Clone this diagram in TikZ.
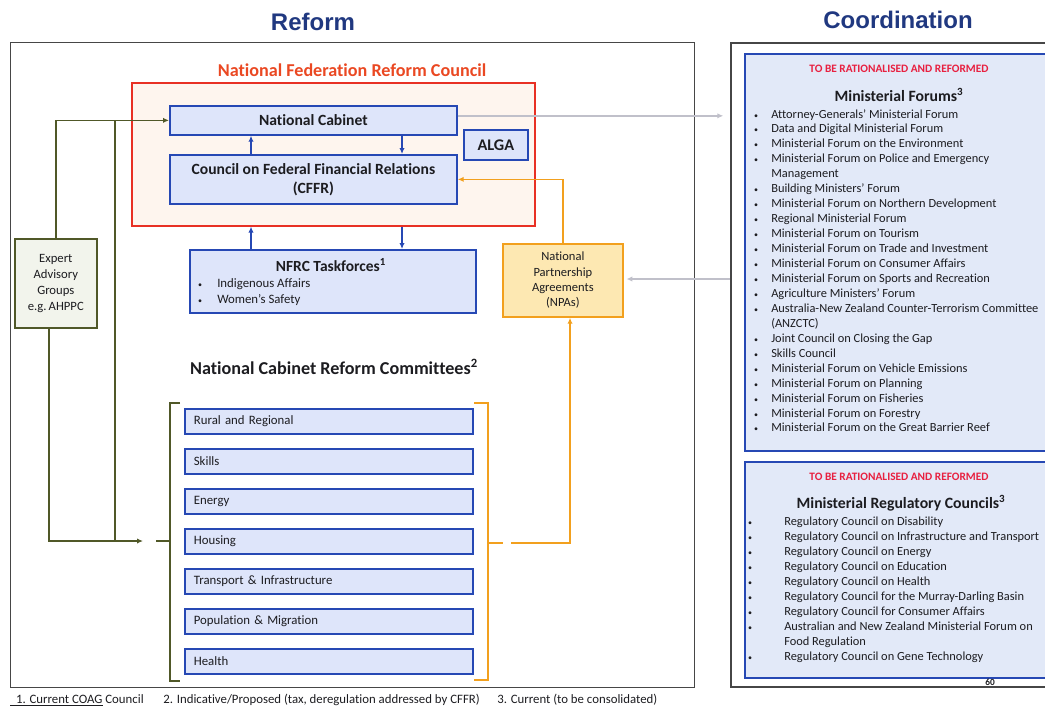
\documentclass[tikz,border=0pt]{standalone}
\usepackage{fontspec}
\setmainfont{Carlito}[Ligatures=NoCommon]
\newfontfamily\headfont{Liberation Sans}
\usetikzlibrary{arrows.meta,positioning}

\definecolor{titleblue}{RGB}{32,56,128}
\definecolor{nfrcred}{RGB}{232,48,36}
\definecolor{nfrctext}{RGB}{234,72,34}
\definecolor{nfrcfill}{RGB}{254,245,238}
\definecolor{boxblue}{RGB}{38,72,180}
\definecolor{boxfill}{RGB}{222,229,250}
\definecolor{panelfill}{RGB}{226,233,248}
\definecolor{npaline}{RGB}{242,160,30}
\definecolor{npafill}{RGB}{253,232,178}
\definecolor{olivel}{RGB}{80,88,40}
\definecolor{expfill}{RGB}{242,244,236}
\definecolor{flowgray}{RGB}{192,192,202}
\definecolor{alertred}{RGB}{232,32,64}
\definecolor{framegray}{RGB}{70,70,70}
\definecolor{ink}{RGB}{28,28,32}

\begin{document}
\begin{tikzpicture}[x=0.75pt,y=-0.75pt,text=ink,
  box/.style={draw,anchor=north west,inner sep=0pt},
  size/.style 2 args={minimum width=#1*0.75pt,minimum height=#2*0.75pt},
  bluebox/.style={box,draw=boxblue,fill=boxfill,line width=1.3pt},
  combox/.style={bluebox,size={288}{25},text width=202.5pt,align=left,
    font=\fontsize{9.6}{11}\selectfont},
  item/.style={anchor=base west,inner sep=0pt,font=\fontsize{9.3}{11}\selectfont},
  dot/.style={anchor=base,inner sep=0pt,font=\fontsize{6}{8}\selectfont},
  bold/.style={font=\bfseries\fontsize{#1}{14.3}\selectfont},
  arr/.style={-{Latex[length=4.5pt,width=4pt]}},
  blueflow/.style={arr,draw=boxblue,line width=1.3pt},
  oliveflow/.style={draw=olivel,line width=1.2pt},
  orangeflow/.style={draw=npaline,line width=1.3pt},
  grayflow/.style={draw=flowgray,line width=1pt}]
\useasboundingbox (0,0) rectangle (1045,707);

% headings and the two frames
\node[font=\headfont\bfseries\fontsize{18}{20}\selectfont,text=titleblue] (treform) at (313,22) {Reform};
\node[font=\headfont\bfseries\fontsize{18}{20}\selectfont,text=titleblue] (tcoord) at (898,20) {Coordination};
\node[box,draw=framegray,line width=1pt,size={684}{645}] (reform) at (10,42) {};
\node[box,draw=framegray,line width=1.2pt,size={340}{644}] (coordfr) at (730,42) {};

% National Federation Reform Council
\node[box,draw=nfrcred,fill=nfrcfill,line width=1.2pt,size={403}{143}] (nfrc) at (131,82) {};
\node[bold=13.6,text=nfrctext] (tnfrc) at (352,70) {National Federation Reform Council};
\node[bluebox,size={287}{29},bold=11.7] (cab) at (169,105) {National Cabinet};
\node[bluebox,size={287}{49},align=center,bold=11.7] (cffr) at (169,154)
  {Council on Federal Financial Relations\\(CFFR)};
\node[bluebox,size={64}{30},bold=12.2] (alga) at (463,129) {ALGA};

% taskforces
\node[bluebox,size={286}{63}] (task) at (189,249) {};
\node[bold=11.6] (ttask) at (331,265) {NFRC Taskforces\textsuperscript{1}};
\foreach \y/\t [count=\i] in {287/Indigenous Affairs,303/Women’s Safety} {
  \node[dot] (tdot\i) at (200,\y) {\textbullet};
  \node[item,font=\fontsize{9.6}{11}\selectfont] (titem\i) at (217,\y) {\t};
}

% side boxes
\node[box,draw=npaline,fill=npafill,line width=1.3pt,size={120}{73},align=center,
  font=\fontsize{9.4}{11.5}\selectfont] (npa) at (502,243) {National\\Partnership\\Agreements\\(NPAs)};
\node[box,draw=olivel,fill=expfill,line width=1.2pt,size={82}{89},align=center,
  font=\fontsize{9.5}{12}\selectfont] (expert) at (14,238) {Expert\\Advisory\\Groups\\e.g.\,AHPPC};

% reform committees
\node[bold=13.6] (tcom) at (334,367) {National Cabinet Reform Committees\textsuperscript{2}};
\foreach \t [count=\i from 0] in {Rural and Regional,Skills,Energy,Housing,
    Transport \& Infrastructure,Population \& Migration,Health}
  \node[combox] (com\i) at (184,408+40*\i) {\t};
\draw[olivel,line width=1.2pt] (180,403) -- (170,403) -- (170,681) -- (180,681);
\draw[npaline,line width=1.3pt] (474,403) -- (488,403) -- (488,680) -- (474,680);

% flows inside the council
\coordinate (lx) at (251,0);
\coordinate (rx) at (402,0);
\draw[blueflow] (cffr.north -| lx) -- (cab.south -| lx);
\draw[blueflow] (cab.south -| rx) -- (cffr.north -| rx);
\draw[blueflow] (task.north -| lx) -- (nfrc.south -| lx);
\draw[blueflow] (nfrc.south -| rx) -- (task.north -| rx);

% expert advice to cabinet and committees
\coordinate (ojoin) at (115,541);
\coordinate (oend) at (143,541);
\coordinate (lbr) at (170,541);
\draw[oliveflow,arr] (expert.north) |- (cab.west);
\draw[oliveflow] (ojoin |- cab.west) -- (ojoin);
\draw[oliveflow,arr] ([xshift=-5pt]expert.south) |- (oend);
\draw[oliveflow] (lbr) -- ++(-14,0);

% partnership agreements
\coordinate (rbr) at (488,543);
\coordinate (ogap) at (511,543);
\coordinate (obend) at (570,543);
\draw[orangeflow,arr] (npa.north) |- (cffr.east);
\draw[orangeflow,arr] (ogap) -| (npa.south -| obend);
\draw[orangeflow] (rbr) -- ++(15,0);

% links to the coordination side
\coordinate (ngy) at (0,279);
\draw[grayflow,arr,shorten >=5pt] ([yshift=3.4pt]cab.east) -- ([yshift=3.4pt]cab.east -| coordfr.west);
\draw[grayflow,arr,shorten >=2pt] (ngy -| coordfr.west) -- (ngy -| npa.east);

% ministerial forums
\node[box,draw=boxblue,fill=panelfill,line width=1.4pt,size={320}{397}] (forums) at (744,53) {};
\node[font=\bfseries\fontsize{8.5}{10}\selectfont,text=alertred] (fwarn) at (899,69) {TO BE RATIONALISED AND REFORMED};
\node[bold=11.8] (tforums) at (899,95) {Ministerial Forums\textsuperscript{3}};
\foreach \b/\t [count=\i from 0] in {1/Attorney-Generals’ Ministerial Forum,
    1/Data and Digital Ministerial Forum,1/Ministerial Forum on the Environment,
    1/Ministerial Forum on Police and Emergency,0/Management,
    1/Building Ministers’ Forum,1/Ministerial Forum on Northern Development,
    1/Regional Ministerial Forum,1/Ministerial Forum on Tourism,
    1/Ministerial Forum on Trade and Investment,1/Ministerial Forum on Consumer Affairs,
    1/Ministerial Forum on Sports and Recreation,1/Agriculture Ministers’ Forum,
    1/Australia-New Zealand Counter-Terrorism Committee,0/(ANZCTC),
    1/Joint Council on Closing the Gap,1/Skills Council,
    1/Ministerial Forum on Vehicle Emissions,1/Ministerial Forum on Planning,
    1/Ministerial Forum on Fisheries,1/Ministerial Forum on Forestry,
    1/Ministerial Forum on the Great Barrier Reef} {
  \node[item] (mf\i) at (771,118+14.95*\i) {\t};
  \ifnum\b=1 \node[dot] (mfd\i) at (756,118+14.95*\i) {\textbullet}; \fi
}

% regulatory councils
\node[box,draw=boxblue,fill=panelfill,line width=1.4pt,size={320}{216}] (regs) at (744,461) {};
\node[font=\bfseries\fontsize{8.5}{10}\selectfont,text=alertred] (rwarn) at (899,477) {TO BE RATIONALISED AND REFORMED};
\node[bold=11.8] (tregs) at (901,503) {Ministerial Regulatory Councils\textsuperscript{3}};
\foreach \b/\t [count=\i from 0] in {1/Regulatory Council on Disability,
    1/Regulatory Council on Infrastructure and Transport,1/Regulatory Council on Energy,
    1/Regulatory Council on Education,1/Regulatory Council on Health,
    1/Regulatory Council for the Murray-Darling Basin,1/Regulatory Council for Consumer Affairs,
    1/Australian and New Zealand Ministerial Forum on,0/Food Regulation,
    1/Regulatory Council on Gene Technology} {
  \node[item] (rc\i) at (784,525+15.1*\i) {\t};
  \ifnum\b=1 \node[dot] (rcd\i) at (750,525+15.1*\i) {\textbullet}; \fi
}
\node[font=\bfseries\fontsize{7}{8}\selectfont] (pgno) at (990,682) {60};

% footnotes
\node[item,font=\fontsize{9.6}{11}\selectfont] (fn1) at (10,703) {\underline{\ \ 1. Current COAG} Council};
\node[item,font=\fontsize{9.6}{11}\selectfont] (fn2) at (163,703) {2. Indicative/Proposed (tax, deregulation addressed by CFFR)};
\node[item,font=\fontsize{9.6}{11}\selectfont] (fn3) at (497,703) {3. Current (to be consolidated)};
\end{tikzpicture}
\end{document}
